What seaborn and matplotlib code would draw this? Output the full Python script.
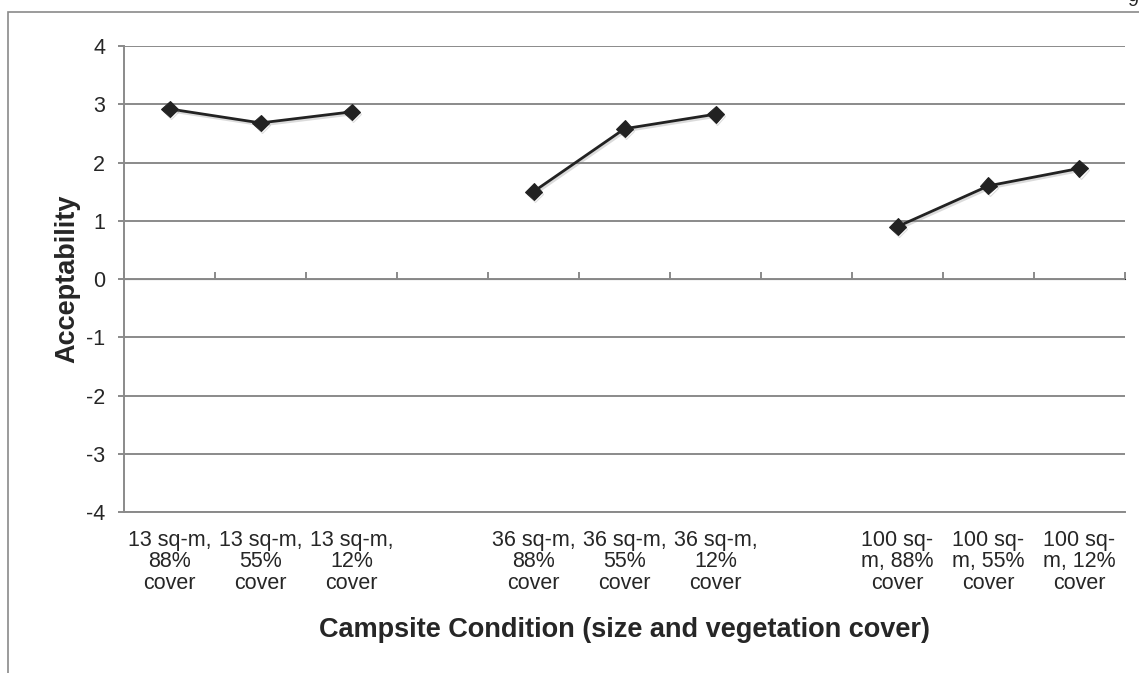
import numpy as np
import pandas as pd
import seaborn as sns
from matplotlib import pyplot as plt
from matplotlib import patheffects as pe

# categories along the x axis (empty strings are the gaps between size groups)
labels = ["13 sq-m,\n88%\ncover", "13 sq-m,\n55%\ncover", "13 sq-m,\n12%\ncover", "",
          "36 sq-m,\n88%\ncover", "36 sq-m,\n55%\ncover", "36 sq-m,\n12%\ncover", "",
          "100 sq-\nm, 88%\ncover", "100 sq-\nm, 55%\ncover", "100 sq-\nm, 12%\ncover"]
sizes = ["13", "13", "13", None, "36", "36", "36", None, "100", "100", "100"]
acceptability = [2.92, 2.68, 2.87, np.nan, 1.50, 2.58, 2.83, np.nan, 0.90, 1.60, 1.90]
yticks = [-4, -3, -2, -1, 0, 1, 2, 3, 4]

df = pd.DataFrame({"pos": range(len(labels)), "size": sizes, "acceptability": acceptability})
df = df.dropna()

sns.set_style("white")
plt.rcParams["font.family"] = ["Liberation Sans", "DejaVu Sans"]
plt.rcParams["axes.unicode_minus"] = False

grey = "#8a8a8a"
fig = plt.figure(figsize=(11.39, 6.73), dpi=100)
ax = fig.add_axes([0.1089, 0.2392, 0.8788, 0.6924])

sns.lineplot(data=df, x="pos", y="acceptability", units="size", estimator=None,
             color="#222222", marker="D", markersize=8.5, linewidth=2,
             markeredgecolor="#222222", legend=False, ax=ax)
for ln in ax.lines:
    ln.set_path_effects([pe.SimpleLineShadow(offset=(1, -1.5), shadow_color="#888888", alpha=0.3),
                         pe.Normal()])

ax.set_xlim(-0.5, len(labels) - 0.5)
ax.set_ylim(-4, 4)
ax.set_yticks(yticks)
ax.grid(axis="y", color=grey, linewidth=1.4)
ax.set_axisbelow(True)

# category labels sit below the plot
ax.set_xticks(range(len(labels)), labels)
for t in ax.get_xticklabels():
    t.set_linespacing(1.02)
ax.tick_params(axis="x", length=0, pad=13, labelsize=15.5)
ax.tick_params(axis="y", direction="out", length=4.5, width=1.4, color=grey, pad=9, labelsize=15.5, left=True)

sns.despine(ax=ax, top=True, right=True)
ax.spines["left"].set_color(grey)
ax.spines["left"].set_linewidth(1.4)
ax.spines["bottom"].set_color(grey)
ax.spines["bottom"].set_linewidth(1.4)

# category boundary ticks along the zero line
bounds = np.arange(len(labels) + 1) - 0.5
sec = ax.secondary_xaxis(0.5)
sec.set_xticks(bounds, [""] * len(bounds))
sec.tick_params(axis="x", direction="out", length=5, width=1.4, color=grey)
sec.spines["bottom"].set_color(grey)
sec.spines["bottom"].set_linewidth(1.4)

ax.set_xlabel("Campsite Condition (size and vegetation cover)", fontsize=19.5, fontweight="bold")
ax.xaxis.set_label_coords(0.5, -0.225)
ax.set_ylabel("Acceptability", fontsize=19.5, fontweight="bold")
ax.yaxis.set_label_coords(-0.044, 0.5)

# outer chart frame (only left and top edges are in view)
frame = plt.Rectangle((8 / 1139, -0.2), 1.2, 1.2 - 11.5 / 673, transform=fig.transFigure,
                      fill=False, edgecolor=grey, linewidth=1.2, clip_on=False)
fig.add_artist(frame)
fig.text(0.999, 0.998, "9", ha="right", va="center", fontsize=14)

fig.savefig("out.png", dpi=100)
